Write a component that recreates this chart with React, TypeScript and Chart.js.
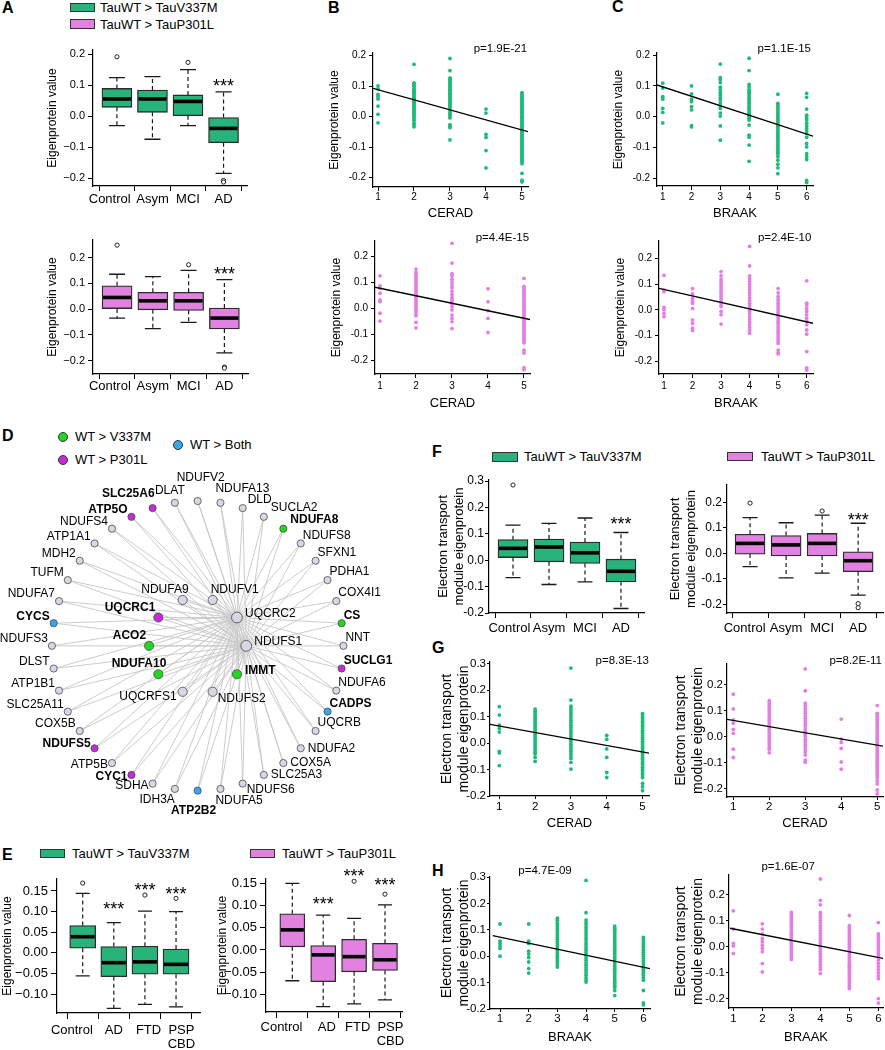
import React, { useEffect, useRef } from 'react';
import { Chart, registerables } from 'chart.js';

Chart.register(...registerables);

const FONT = "'Liberation Sans', Arial, Helvetica, sans-serif";

const GREEN_BOX = '#28b37b';
const PINK_BOX = '#e182e0';
const GREEN_DOT = '#1eba78';
const PINK_DOT = '#e47ee4';

/* ---------------- categories, ticks, labels ---------------- */
const stageCats = ['Control', 'Asym', 'MCI', 'AD'];
const diseaseCats = ['Control', 'AD', 'FTD', 'PSP\nCBD'];
const ceradStages = [1, 2, 3, 4, 5];
const braakStages = [1, 2, 3, 4, 5, 6];
const ticksPm02 = [-0.2, -0.1, 0, 0.1, 0.2];
const ticksM02to03 = [-0.2, -0.1, 0, 0.1, 0.2, 0.3];
const ticksE = [-0.1, -0.05, 0, 0.05, 0.1, 0.15];
const legendV337M = 'TauWT > TauV337M';
const legendP301L = 'TauWT > TauP301L';

/* ---------------- box plots: [min, q1, median, q3, max] ---------------- */
const boxA_V337M = [[-0.031, 0.028, 0.055, 0.089, 0.124], [-0.075, 0.012, 0.055, 0.084, 0.127], [-0.031, 0.001, 0.047, 0.068, 0.15], [-0.185, -0.086, -0.04, -0.005, 0.078]];
const outA_V337M = [[0.191], [], [0.173], [-0.208, -0.213]];
const starsA_V337M = [null, null, null, 0.112];

const boxA_P301L = [[-0.035, 0.0, 0.045, 0.09, 0.135], [-0.076, -0.003, 0.032, 0.065, 0.126], [-0.052, -0.005, 0.032, 0.065, 0.15], [-0.17, -0.077, -0.035, 0.004, 0.114]];
const outA_P301L = [[0.248], [], [0.172], [-0.225, -0.229]];
const starsA_P301L = [null, null, null, 0.152];

const boxE_V337M = [[-0.056, 0.011, 0.039, 0.066, 0.144], [-0.135, -0.058, -0.024, 0.015, 0.073], [-0.125, -0.052, -0.022, 0.016, 0.101], [-0.131, -0.052, -0.028, 0.009, 0.1]];
const outE_V337M = [[0.169], [], [0.14], [0.132]];
const starsE_V337M = [null, 0.116, 0.162, 0.154];

const boxE_P301L = [[-0.069, 0.007, 0.045, 0.081, 0.149], [-0.127, -0.071, -0.011, 0.01, 0.078], [-0.121, -0.049, -0.015, 0.024, 0.071], [-0.112, -0.046, -0.022, 0.015, 0.101]];
const outE_P301L = [[], [], [0.154], [0.125]];
const starsE_P301L = [null, 0.112, 0.175, 0.154];

const boxF_V337M = [[-0.066, 0.01, 0.045, 0.078, 0.133], [-0.092, -0.006, 0.05, 0.08, 0.14], [-0.082, -0.012, 0.028, 0.069, 0.16], [-0.183, -0.082, -0.042, 0.004, 0.105]];
const outF_V337M = [[0.285], [], [], []];
const starsF_V337M = [null, null, null, 0.152];

const boxF_P301L = [[-0.052, -0.003, 0.039, 0.075, 0.14], [-0.096, -0.01, 0.033, 0.07, 0.12], [-0.078, -0.01, 0.039, 0.078, 0.15], [-0.164, -0.072, -0.029, 0.006, 0.118]];
const outF_P301L = [[0.197], [], [0.166], [-0.197, -0.213]];
const starsF_P301L = [null, null, null, 0.148];

/* ---------------- scatter columns (one array per stage) ---------------- */
const bCerad_V337M = [
  [0.101, 0.091, 0.073, 0.066, 0.058, 0.035, 0.008, -0.02],
  [0.172, 0.111, 0.108, 0.102, 0.098, 0.091, 0.088, 0.082, 0.079, 0.075, 0.07, 0.066, 0.061, 0.059, 0.053, 0.05, 0.046, 0.043, 0.037, 0.035, 0.03, 0.026, 0.022, 0.017, 0.014, 0.008, 0.004, -0.001, -0.007, -0.013, -0.022, -0.026, -0.033],
  [0.191, 0.151, 0.127, 0.123, 0.118, 0.113, 0.109, 0.104, 0.1, 0.095, 0.09, 0.087, 0.082, 0.077, 0.073, 0.069, 0.064, 0.06, 0.055, 0.051, 0.046, 0.041, 0.036, 0.031, 0.025, 0.02, 0.013, 0.008, 0.002, -0.004, -0.026, -0.031, -0.036, -0.076],
  [0.025, 0.012, -0.058, -0.068, -0.111, -0.168],
  [0.079, 0.075, 0.071, 0.066, 0.062, 0.058, 0.053, 0.049, 0.045, 0.04, 0.036, 0.032, 0.028, 0.023, 0.019, 0.015, 0.01, 0.006, 0.001, -0.003, -0.007, -0.012, -0.016, -0.021, -0.025, -0.029, -0.034, -0.038, -0.043, -0.047, -0.052, -0.056, -0.061, -0.065, -0.07, -0.074, -0.079, -0.083, -0.088, -0.092, -0.097, -0.101, -0.106, -0.11, -0.115, -0.119, -0.124, -0.129, -0.133, -0.138, -0.143, -0.148, -0.154, -0.186, -0.208, -0.214],
];
const bCerad_P301L = [
  [0.125, 0.086, 0.077, 0.058, 0.032, 0.026, -0.019, -0.049],
  [0.151, 0.138, 0.131, 0.123, 0.116, 0.108, 0.101, 0.094, 0.086, 0.079, 0.072, 0.065, 0.057, 0.05, 0.044, 0.037, 0.03, 0.022, 0.015, 0.008, 0.001, -0.006, -0.013, -0.021, -0.029, -0.054, -0.075],
  [0.25, 0.174, 0.133, 0.124, 0.112, 0.101, 0.09, 0.079, 0.066, 0.053, 0.043, 0.034, 0.026, 0.017, 0.006, -0.006, -0.026, -0.039, -0.052, -0.078],
  [0.075, 0.025, -0.009, -0.039, -0.093],
  [0.115, 0.084, 0.078, 0.071, 0.065, 0.058, 0.051, 0.045, 0.038, 0.031, 0.025, 0.018, 0.012, 0.005, -0.001, -0.008, -0.014, -0.021, -0.027, -0.034, -0.04, -0.047, -0.053, -0.06, -0.066, -0.073, -0.079, -0.086, -0.092, -0.099, -0.105, -0.112, -0.118, -0.125, -0.133, -0.161, -0.172, -0.228, -0.236],
];
const cBraak_V337M = [
  [0.109, 0.093, 0.065, 0.057, 0.027, 0.014, -0.02],
  [0.1, 0.074, 0.057, 0.049, 0.033, 0.022, -0.029, -0.033],
  [0.171, 0.127, 0.121, 0.111, 0.096, 0.088, 0.079, 0.07, 0.062, 0.055, 0.045, 0.036, 0.027, 0.012, 0.002, -0.03, -0.076],
  [0.19, 0.15, 0.105, 0.097, 0.088, 0.082, 0.076, 0.069, 0.062, 0.056, 0.049, 0.043, 0.036, 0.03, 0.024, 0.017, 0.011, 0.006, 0.0, -0.005, -0.011, -0.027, -0.06, -0.067, -0.092, -0.145],
  [0.073, 0.043, 0.038, 0.032, 0.025, 0.019, 0.012, 0.006, 0.0, -0.006, -0.012, -0.019, -0.025, -0.031, -0.037, -0.043, -0.049, -0.055, -0.061, -0.067, -0.073, -0.079, -0.085, -0.091, -0.097, -0.103, -0.109, -0.115, -0.121, -0.13, -0.141, -0.154, -0.166, -0.185],
  [0.076, 0.063, 0.025, 0.005, -0.003, -0.011, -0.021, -0.03, -0.038, -0.046, -0.055, -0.067, -0.087, -0.098, -0.12, -0.13, -0.139, -0.207, -0.214],
];
const cBraak_P301L = [
  [0.134, 0.078, 0.071, 0.01, 0.0, -0.013, -0.026],
  [0.083, 0.062, 0.045, 0.035, 0.026, 0.006, -0.039, -0.052, -0.071, -0.08],
  [0.149, 0.133, 0.12, 0.11, 0.1, 0.091, 0.081, 0.072, 0.062, 0.052, 0.043, 0.033, 0.023, 0.013, -0.006, -0.019, -0.055],
  [0.247, 0.171, 0.132, 0.122, 0.111, 0.1, 0.089, 0.079, 0.068, 0.058, 0.047, 0.037, 0.026, 0.016, 0.005, -0.006, -0.016, -0.027, -0.037, -0.048, -0.058, -0.068, -0.079, -0.091],
  [0.083, 0.066, 0.052, 0.043, 0.035, 0.026, 0.017, 0.009, 0.0, -0.009, -0.018, -0.026, -0.035, -0.044, -0.052, -0.061, -0.07, -0.079, -0.087, -0.096, -0.105, -0.113, -0.122, -0.13, -0.156, -0.166, -0.171],
  [0.113, 0.026, 0.019, 0.006, -0.006, -0.019, -0.032, -0.045, -0.058, -0.078, -0.094, -0.162, -0.225, -0.234],
];
const gCerad_V337M = [
  [0.138, 0.106, 0.068, 0.055, 0.042, -0.031, -0.037, -0.085],
  [0.129, 0.121, 0.112, 0.104, 0.097, 0.089, 0.081, 0.073, 0.066, 0.058, 0.051, 0.043, 0.035, 0.028, 0.02, 0.012, 0.005, -0.003, -0.011, -0.018, -0.026, -0.034, -0.041, -0.054, -0.069],
  [0.284, 0.163, 0.14, 0.131, 0.122, 0.113, 0.104, 0.095, 0.086, 0.077, 0.068, 0.059, 0.05, 0.041, 0.032, 0.023, 0.014, 0.005, -0.004, -0.013, -0.022, -0.031, -0.04, -0.049, -0.058, -0.073, -0.098],
  [0.029, 0.014, -0.022, -0.054, -0.111, -0.13],
  [0.112, 0.106, 0.099, 0.092, 0.084, 0.078, 0.07, 0.063, 0.057, 0.049, 0.042, 0.036, 0.028, 0.021, 0.015, 0.007, 0.001, -0.007, -0.014, -0.02, -0.028, -0.035, -0.041, -0.049, -0.056, -0.062, -0.07, -0.077, -0.083, -0.091, -0.098, -0.104, -0.112, -0.119, -0.13, -0.152, -0.165, -0.18],
];
const gCerad_P301L = [
  [0.164, 0.107, 0.065, 0.052, 0.028, 0.013, -0.048, -0.08],
  [0.139, 0.131, 0.122, 0.114, 0.105, 0.097, 0.088, 0.08, 0.071, 0.063, 0.054, 0.046, 0.037, 0.029, 0.02, 0.012, 0.003, -0.006, -0.014, -0.023, -0.031, -0.04, -0.048, -0.062],
  [0.261, 0.177, 0.129, 0.12, 0.11, 0.1, 0.091, 0.08, 0.07, 0.061, 0.05, 0.041, 0.03, 0.021, 0.01, 0.001, -0.01, -0.019, -0.03, -0.039, -0.05, -0.059, -0.07, -0.09, -0.098],
  [0.068, -0.009, -0.022, -0.045, -0.097, -0.125],
  [0.12, 0.09, 0.082, 0.074, 0.066, 0.058, 0.05, 0.042, 0.034, 0.026, 0.018, 0.01, 0.002, -0.006, -0.014, -0.022, -0.03, -0.038, -0.046, -0.054, -0.062, -0.07, -0.078, -0.086, -0.094, -0.102, -0.11, -0.118, -0.126, -0.134, -0.142, -0.15, -0.158, -0.17, -0.182, -0.205, -0.22],
];
const hBraak_V337M = [
  [0.122, 0.057, 0.048, 0.039, 0.029, 0.0],
  [0.122, 0.057, 0.048, 0.019, 0.008, -0.005, -0.022, -0.047, -0.064],
  [0.144, 0.136, 0.128, 0.12, 0.112, 0.104, 0.096, 0.088, 0.08, 0.072, 0.064, 0.056, 0.048, 0.04, 0.032, 0.024, 0.016, 0.008, 0.0, -0.008, -0.016, -0.024, -0.033, -0.041],
  [0.287, 0.165, 0.137, 0.127, 0.118, 0.108, 0.099, 0.089, 0.08, 0.07, 0.061, 0.051, 0.042, 0.032, 0.023, 0.013, 0.004, -0.006, -0.015, -0.025, -0.034, -0.044, -0.053, -0.063, -0.072, -0.082, -0.09, -0.098],
  [0.114, 0.106, 0.098, 0.09, 0.082, 0.074, 0.066, 0.058, 0.05, 0.042, 0.034, 0.026, 0.018, 0.01, 0.002, -0.006, -0.014, -0.022, -0.03, -0.038, -0.046, -0.054, -0.062, -0.07, -0.078, -0.086, -0.094, -0.102, -0.11, -0.118, -0.13, -0.149],
  [0.071, 0.063, 0.055, 0.047, 0.039, 0.031, 0.023, 0.015, 0.007, -0.001, -0.009, -0.017, -0.025, -0.033, -0.041, -0.049, -0.057, -0.065, -0.073, -0.081, -0.091, -0.13, -0.177, -0.184],
];
const hBraak_P301L = [
  [0.138, 0.068, 0.013, 0.003, -0.026],
  [0.088, 0.068, 0.049, 0.032, 0.019, 0.006, -0.006, -0.019, -0.065, -0.097],
  [0.132, 0.124, 0.116, 0.108, 0.1, 0.092, 0.084, 0.076, 0.068, 0.06, 0.052, 0.044, 0.036, 0.028, 0.02, 0.012, 0.004, -0.004, -0.012, -0.02, -0.03, -0.04, -0.049],
  [0.261, 0.178, 0.161, 0.132, 0.122, 0.112, 0.102, 0.092, 0.082, 0.072, 0.062, 0.052, 0.042, 0.032, 0.022, 0.012, 0.002, -0.008, -0.018, -0.028, -0.038, -0.048, -0.058, -0.068, -0.078, -0.088, -0.103],
  [0.12, 0.081, 0.073, 0.065, 0.057, 0.049, 0.041, 0.033, 0.025, 0.017, 0.009, 0.001, -0.007, -0.015, -0.023, -0.031, -0.039, -0.047, -0.055, -0.063, -0.071, -0.079, -0.087, -0.095, -0.103, -0.111, -0.119, -0.127, -0.135, -0.143, -0.152, -0.161],
  [0.093, 0.049, 0.04, 0.03, 0.02, 0.01, 0.0, -0.01, -0.02, -0.03, -0.04, -0.052, -0.064, -0.076, -0.088, -0.1, -0.112, -0.123, -0.2, -0.217],
];

/* regression line end points */
const fitB_V337M = [{ x: 0.861, y: 0.093 }, { x: 5.167, y: -0.049 }];
const fitB_P301L = [{ x: 0.861, y: 0.081 }, { x: 5.167, y: -0.043 }];
const fitC_V337M = [{ x: 0.8, y: 0.103 }, { x: 6.22, y: -0.063 }];
const fitC_P301L = [{ x: 0.825, y: 0.084 }, { x: 6.22, y: -0.052 }];
const fitG_V337M = [{ x: 0.74, y: 0.071 }, { x: 5.18, y: -0.038 }];
const fitG_P301L = [{ x: 0.825, y: 0.067 }, { x: 5.16, y: -0.036 }];
const fitH_V337M = [{ x: 0.745, y: 0.078 }, { x: 6.23, y: -0.047 }];
const fitH_P301L = [{ x: 0.886, y: 0.071 }, { x: 6.16, y: -0.045 }];

const pB_V337M = 'p=1.9E-21';
const pB_P301L = 'p=4.4E-15';
const pC_V337M = 'p=1.1E-15';
const pC_P301L = 'p=2.4E-10';
const pG_V337M = 'p=8.3E-13';
const pG_P301L = 'p=8.2E-11';
const pH_V337M = 'p=4.7E-09';
const pH_P301L = 'p=1.6E-07';

/* ---------------- network (panel D) ---------------- */
const netOuterNames = ['NDUFV2', 'NDUFA13', 'DLD', 'SUCLA2', 'NDUFA8', 'NDUFS8', 'SFXN1', 'PDHA1', 'COX4I1', 'CS', 'NNT', 'SUCLG1', 'NDUFA6', 'CADPS', 'UQCRB', 'NDUFA2', 'COX5A', 'SLC25A3', 'NDUFS6', 'NDUFA5', 'ATP2B2', 'IDH3A', 'SDHA', 'CYC1', 'ATP5B', 'NDUFS5', 'COX5B', 'SLC25A11', 'ATP1B1', 'DLST', 'NDUFS3', 'CYCS', 'NDUFA7', 'TUFM', 'MDH2', 'ATP1A1', 'NDUFS4', 'ATP5O', 'SLC25A6', 'DLAT'];
const netOuterGroups = 'g g g g v g g g g v g p g b g g g g g g b g g p g p g g g g g b g g g g g p p g'.split(' ');
const netInnerNames = ['NDUFV1', 'UQCRC2', 'NDUFS1', 'IMMT', 'NDUFS2', 'UQCRFS1', 'NDUFA10', 'ACO2', 'UQCRC1', 'NDUFA9'];
const netInnerGroups = 'g g g v g g v v p g'.split(' ');
const netHubNames = ['UQCRC2', 'NDUFS1'];
const netGroupOrder = ['g', 'v', 'p', 'b'];
const netGroupFill: any = { g: '#d6d8e6', v: '#22d622', p: '#c52bd7', b: '#38a6ec' };

/* ---------------- helpers ---------------- */
type Geo = { cl: number; pl: number; pt: number; pr: number; pb: number; cb: number };
const PAD_T = 14;
const PAD_R = 10;
function frameOf(g: Geo) {
  return { left: g.cl, top: g.pt - PAD_T, width: g.pr + PAD_R - g.cl, height: g.cb - g.pt + PAD_T, yW: g.pl - g.cl, xH: g.cb - g.pb };
}
const fmtMinus1 = (v: number) => (v < -1e-9 ? '\u2212' : '') + Math.abs(v).toFixed(1);
const fmtMinus2 = (v: number) => (v < -1e-9 ? '\u2212' : '') + Math.abs(v).toFixed(2);
const fmtHyph1 = (v: number) => (v < -1e-9 ? '-' : '') + Math.abs(v).toFixed(1);
/* nudge a centred category label sideways with non-breaking spaces (negative = left) */
const NB = '\u00a0';
const nudge = (s: string, n: number) => (n < 0 ? s + NB.repeat(-n) : NB.repeat(n) + s);

function makeScales(o: any) {
  const f = frameOf(o.g);
  const grid = (len: number) => ({ display: true, drawOnChartArea: false, drawTicks: true, tickLength: len, tickWidth: 1, tickColor: '#000', color: '#000', lineWidth: 1 });
  const border = { display: true, color: '#000', width: 1.2 };
  return {
    x: {
      type: 'linear', min: o.xr[0], max: o.xr[1], bounds: 'data', offset: false,
      afterFit: (s: any) => { s.height = f.xH; },
      afterBuildTicks: (s: any) => { s.ticks = o.xTicks.map((v: number) => ({ value: v })); },
      grid: grid(o.xTickLen), border,
      ticks: { autoSkip: false, maxRotation: 0, minRotation: 0, padding: o.xPad, color: '#000', font: { family: FONT, size: o.xTickFont, lineHeight: 1.1 }, callback: (v: any) => o.xLabel(Number(v)) },
      title: o.xTitle ? { display: true, text: o.xTitle, color: '#000', font: { family: FONT, size: o.xTitleFont, lineHeight: 1.2 }, padding: { top: 0, bottom: 0 } } : { display: false },
    },
    y: {
      type: 'linear', min: o.yr[0], max: o.yr[1], bounds: 'data',
      afterFit: (s: any) => { s.width = f.yW; },
      afterBuildTicks: (s: any) => { s.ticks = o.yTicks.map((v: number) => ({ value: v })); },
      grid: grid(o.yTickLen), border,
      ticks: { autoSkip: false, padding: o.yPad, color: '#000', font: { family: FONT, size: o.yTickFont }, callback: (v: any) => o.yFmt(Number(v)) },
      title: { display: true, text: o.yTitle, color: '#000', font: { family: FONT, size: o.yTitleFont, lineHeight: 1.2 }, padding: { top: 0, bottom: 0 } },
    },
  };
}

function baseOptions(o: any) {
  return {
    responsive: false,
    animation: false,
    events: [],
    layout: { padding: { top: PAD_T, right: PAD_R, bottom: 0, left: 0 } },
    plugins: { legend: { display: false }, tooltip: { enabled: false }, title: { display: false } },
    scales: makeScales(o),
  };
}

function boxOverlay(stats: number[][], stars: (number | null)[], capW: number, medW: number) {
  return {
    id: 'boxOverlay',
    afterDatasetsDraw(chart: any) {
      const ctx = chart.ctx;
      const xs = chart.scales.x;
      const ys = chart.scales.y;
      ctx.save();
      stats.forEach((s, i) => {
        const cx = xs.getPixelForValue(i + 1);
        const [mn, q1, md, q3, mx] = s.map((v) => ys.getPixelForValue(v));
        ctx.strokeStyle = '#1a1a1a';
        ctx.lineWidth = 1.2;
        ctx.setLineDash([4, 3]);
        ctx.beginPath();
        ctx.moveTo(cx, q3); ctx.lineTo(cx, mx);
        ctx.moveTo(cx, q1); ctx.lineTo(cx, mn);
        ctx.stroke();
        ctx.setLineDash([]);
        ctx.lineWidth = 1.3;
        ctx.beginPath();
        ctx.moveTo(cx - capW / 2, mx); ctx.lineTo(cx + capW / 2, mx);
        ctx.moveTo(cx - capW / 2, mn); ctx.lineTo(cx + capW / 2, mn);
        ctx.stroke();
        ctx.strokeStyle = '#000';
        ctx.lineWidth = 3.6;
        ctx.beginPath();
        ctx.moveTo(cx - medW / 2 + 1, md); ctx.lineTo(cx + medW / 2 - 1, md);
        ctx.stroke();
      });
      const size = 18;
      ctx.fillStyle = '#000';
      ctx.font = `${size}px ${FONT}`;
      ctx.textAlign = 'center';
      ctx.textBaseline = 'alphabetic';
      stars.forEach((v, i) => {
        if (v == null) return;
        ctx.fillText('***', xs.getPixelForValue(i + 1), ys.getPixelForValue(v) + size * 0.57);
      });
      ctx.restore();
    },
  };
}

function noteOverlay(note: any) {
  return {
    id: 'pNote',
    afterDatasetsDraw(chart: any) {
      const ctx = chart.ctx;
      ctx.save();
      ctx.font = `11.5px ${FONT}`;
      ctx.fillStyle = '#000';
      ctx.textAlign = note.align;
      ctx.textBaseline = 'middle';
      ctx.fillText(note.text, chart.scales.x.getPixelForValue(note.x), chart.scales.y.getPixelForValue(note.y));
      ctx.restore();
    },
  };
}

function boxConfig(p: any) {
  return {
    type: 'scatter',
    data: {
      datasets: [
        {
          type: 'scatter', order: 0,
          data: p.outliers.flatMap((arr: number[], i: number) => arr.map((v) => ({ x: i + 1, y: v }))),
          pointRadius: 2.1, pointBackgroundColor: '#fff', pointBorderColor: '#222', pointBorderWidth: 1,
        },
        {
          type: 'bar', order: 1,
          data: p.stats.map((s: number[], i: number) => ({ x: i + 1, y: [s[1], s[3]] })),
          backgroundColor: p.fill, borderColor: '#2b2b2b', borderWidth: 1.3, borderSkipped: false,
          barThickness: p.boxW, grouped: false,
        },
      ],
    },
    options: baseOptions(p.o),
    plugins: [boxOverlay(p.stats, p.stars, p.capW, p.boxW)],
  };
}

function scatterConfig(p: any) {
  return {
    type: 'scatter',
    data: {
      datasets: [
        { order: 0, data: p.fit, showLine: true, borderColor: '#000', borderWidth: 1.4, pointRadius: 0, fill: false },
        {
          order: 1,
          data: p.values.flatMap((arr: number[], i: number) => arr.map((v) => ({ x: p.stages[i], y: v }))),
          pointRadius: 1.9, pointBackgroundColor: p.color, pointBorderColor: p.color, pointBorderWidth: 0,
        },
      ],
    },
    options: baseOptions(p.o),
    plugins: [noteOverlay(p.note)],
  };
}

/* ---------------- network config ---------------- */
const NET_LEFT = 0, NET_TOP = 462, NET_W = 440, NET_H = 360;
const NET_CX = 197, NET_CY = 646, NET_R = 150;
const INNER_RATIO = 1 / 3;

function outerPlace(a: number): [string, number, number] {
  if (a < 4.5) return ['center', 3, -23];
  if (a < 13.5) return ['center', 22, -14];
  if (a < 22.5) return ['left', 5, -8];
  if (a < 40.5) return ['left', 7, -9];
  if (a < 130.5) return ['left', 2, -8];
  if (a < 157.5) return ['left', 7, 0];
  if (a < 166.5) return ['left', 4, 6];
  if (a < 175.5) return ['left', -5, 12];
  if (a < 184.5) return ['center', -4, 20];
  if (a < 193.5) return ['right', 0, 11];
  if (a < 220.5) return ['right', -4, 2];
  if (a < 229.5) return ['right', -4, -5];
  if (a < 337.5) return ['right', -4, -7];
  if (a < 346.5) return ['right', 2, -14];
  return ['center', -5, -12];
}
function innerPlace(a: number): [string, number, number] {
  if (a < 36) return ['left', -2, -10];
  if (a < 144) return ['left', 8, -4];
  if (a < 180) return ['left', 5, 7];
  if (a < 216) return ['right', -6, 5];
  if (a < 252) return ['right', 8, -11];
  if (a < 324) return ['right', -3, -10];
  return ['right', 6, -10];
}

function networkNodes() {
  const n = netOuterNames.length;
  const m = netInnerNames.length;
  const rad = Math.PI / 180;
  const outer = netOuterNames.map((name, i) => {
    const a = (i * 360) / n;
    return { name, group: netOuterGroups[i], ring: 'outer', a, x: Math.sin(a * rad), y: Math.cos(a * rad), r: 3.6 };
  });
  const inner = netInnerNames.map((name, k) => {
    const a = 180 / m + (k * 360) / m;
    const hub = netHubNames.includes(name);
    return { name, group: netInnerGroups[k], ring: 'inner', a, x: INNER_RATIO * Math.sin(a * rad), y: INNER_RATIO * Math.cos(a * rad), r: hub ? 5.4 : 4.6 };
  });
  return [...outer, ...inner];
}

function networkConfig() {
  const nodes = networkNodes();
  const byName: any = {};
  nodes.forEach((nd) => { byName[nd.name] = nd; });
  const edges: [string, string][] = [];
  nodes.forEach((nd) => {
    if (netHubNames.includes(nd.name)) return;
    netHubNames.forEach((h) => edges.push([nd.name, h]));
  });
  edges.push([netHubNames[0], netHubNames[1]]);
  const plugin = {
    id: 'net',
    beforeDatasetsDraw(chart: any) {
      const ctx = chart.ctx;
      const xs = chart.scales.x, ys = chart.scales.y;
      ctx.save();
      ctx.strokeStyle = '#c6c6c6';
      ctx.lineWidth = 0.9;
      ctx.beginPath();
      edges.forEach(([a, b]) => {
        const na = byName[a], nb = byName[b];
        ctx.moveTo(xs.getPixelForValue(na.x), ys.getPixelForValue(na.y));
        ctx.lineTo(xs.getPixelForValue(nb.x), ys.getPixelForValue(nb.y));
      });
      ctx.stroke();
      ctx.restore();
    },
    afterDatasetsDraw(chart: any) {
      const ctx = chart.ctx;
      const xs = chart.scales.x, ys = chart.scales.y;
      ctx.save();
      ctx.fillStyle = '#000';
      ctx.textBaseline = 'middle';
      nodes.forEach((nd) => {
        const [align, dx, dy] = nd.ring === 'outer' ? outerPlace(nd.a) : innerPlace(nd.a);
        ctx.font = `${nd.group === 'g' ? '' : 'bold '}12px ${FONT}`;
        ctx.textAlign = align;
        ctx.fillText(nd.name, xs.getPixelForValue(nd.x) + dx, ys.getPixelForValue(nd.y) + dy);
      });
      ctx.restore();
    },
  };
  return {
    type: 'scatter',
    data: {
      datasets: netGroupOrder.map((g) => ({
        data: nodes.filter((nd) => nd.group === g).map((nd) => ({ x: nd.x, y: nd.y, r: nd.r })),
        pointRadius: (c: any) => (c.raw ? c.raw.r : 3.5),
        pointBackgroundColor: netGroupFill[g],
        pointBorderColor: '#4a4a4a',
        pointBorderWidth: 0.8,
      })),
    },
    options: {
      responsive: false, animation: false, events: [],
      layout: { padding: 0 },
      plugins: { legend: { display: false }, tooltip: { enabled: false } },
      scales: {
        x: { type: 'linear', display: false, bounds: 'data', min: (NET_LEFT - NET_CX) / NET_R, max: (NET_LEFT + NET_W - NET_CX) / NET_R },
        y: { type: 'linear', display: false, bounds: 'data', min: -(NET_TOP + NET_H - NET_CY) / NET_R, max: (NET_CY - NET_TOP) / NET_R },
      },
    },
    plugins: [plugin],
  };
}

/* ---------------- components ---------------- */
function ChartCanvas({ left, top, width, height, make }: any) {
  const ref = useRef<HTMLCanvasElement>(null);
  useEffect(() => {
    const chart = new Chart(ref.current as any, make());
    return () => chart.destroy();
  }, []);
  return <canvas ref={ref} width={width} height={height} style={{ position: 'absolute', left, top, width, height }} />;
}

function GeoChart({ g, make }: any) {
  const f = frameOf(g);
  return <ChartCanvas left={f.left} top={f.top} width={f.width} height={f.height} make={make} />;
}

function Txt({ x, y, text, size = 13, bold = false }: any) {
  return (
    <div style={{ position: 'absolute', left: x, top: y - size * 0.6, fontSize: size, lineHeight: `${size * 1.2}px`, fontFamily: FONT, fontWeight: bold ? 'bold' : 'normal', whiteSpace: 'nowrap', color: '#000' }}>
      {text}
    </div>
  );
}
function Swatch({ x, y, w, h, color }: any) {
  return <div style={{ position: 'absolute', left: x, top: y, width: w, height: h, background: color, border: '1px solid #333', boxSizing: 'border-box' }} />;
}
function Dot({ cx, cy, r, color }: any) {
  return <div style={{ position: 'absolute', left: cx - r, top: cy - r, width: 2 * r, height: 2 * r, borderRadius: '50%', background: color, border: '1px solid #333', boxSizing: 'border-box' }} />;
}

/* geometry of each plot: canvas left, plot left/top/right/bottom, canvas bottom */
const geoA1: Geo = { cl: 45, pl: 93, pt: 50, pr: 247, pb: 186, cb: 212 };
const geoA2: Geo = { cl: 45, pl: 93, pt: 240, pr: 248, pb: 374, cb: 400 };
const geoB1: Geo = { cl: 327, pl: 373, pt: 53, pr: 528, pb: 187, cb: 221 };
const geoB2: Geo = { cl: 329, pl: 375, pt: 241, pr: 530, pb: 374, cb: 411 };
const geoC1: Geo = { cl: 611, pl: 657, pt: 53, pr: 813, pb: 186, cb: 221 };
const geoC2: Geo = { cl: 613, pl: 659, pt: 241, pr: 813, pb: 374, cb: 411 };
const geoE1: Geo = { cl: 0, pl: 57, pt: 879, pr: 200, pb: 1013, cb: 1050 };
const geoE2: Geo = { cl: 215, pl: 266, pt: 879, pr: 402, pb: 1012, cb: 1050 };
const geoF1: Geo = { cl: 436, pl: 489, pt: 480, pr: 644, pb: 613, cb: 640 };
const geoF2: Geo = { cl: 668, pl: 727, pt: 485, pr: 883, pb: 613, cb: 640 };
const geoG1: Geo = { cl: 439, pl: 490, pt: 662, pr: 649, pb: 796, cb: 831 };
const geoG2: Geo = { cl: 673, pl: 727, pt: 664, pr: 883, pb: 797, cb: 831 };
const geoH1: Geo = { cl: 439, pl: 490, pt: 877, pr: 650, pb: 1009, cb: 1045 };
const geoH2: Geo = { cl: 673, pl: 729, pt: 875, pr: 883, pb: 1008, cb: 1045 };

const catIdx = stageCats.map((_, i) => i + 1);
const disIdx = diseaseCats.map((_, i) => i + 1);
const ETM = ['Electron transport', 'module eigenprotein'];

const boxAxisA = (g: Geo, yr: number[], xPad: number) => ({
  g, xr: [0.327, 4.66], yr, xTicks: catIdx, xLabel: (v: number) => nudge(stageCats[v - 1], [-4, 0, 0, 0][v - 1]),
  yTicks: ticksPm02, yFmt: fmtMinus1, yTickFont: 11, xTickFont: 13, yTickLen: 5, xTickLen: 5, yPad: 3, xPad,
  yTitle: 'Eigenprotein value', yTitleFont: 12,
});
const boxAxisE = (g: Geo, xr: number[], yr: number[], xPad: number, shifts: number[]) => ({
  g, xr, yr, xTicks: disIdx, xLabel: (v: number) => diseaseCats[v - 1].split('\n').map((s) => nudge(s, shifts[v - 1])),
  yTicks: ticksE, yFmt: fmtMinus2, yTickFont: 13, xTickFont: 13, yTickLen: 6, xTickLen: 6, yPad: 3, xPad,
  yTitle: 'Eigenprotein value', yTitleFont: 12,
});
const boxAxisF = (g: Geo, xr: number[], yr: number[], yTicks: number[], shifts: number[]) => ({
  g, xr, yr, xTicks: catIdx, xLabel: (v: number) => nudge(stageCats[v - 1], shifts[v - 1]),
  yTicks, yFmt: fmtHyph1, yTickFont: 12, xTickFont: 13, yTickLen: 4, xTickLen: 5, yPad: 1, xPad: 3,
  yTitle: ETM, yTitleFont: 13,
});
const scatAxisBC = (g: Geo, xr: number[], yr: number[], stages: number[], xTitle: string, xPad: number) => ({
  g, xr, yr, xTicks: stages, xLabel: (v: number) => String(v),
  yTicks: ticksPm02, yFmt: fmtHyph1, yTickFont: 10, xTickFont: 10, yTickLen: 4, xTickLen: 4, yPad: 3, xPad,
  yTitle: 'Eigenprotein value', yTitleFont: 12, xTitle, xTitleFont: 13,
});
const scatAxisGH = (g: Geo, xr: number[], yr: number[], yTicks: number[], stages: number[], xTitle: string, xPad: number) => ({
  g, xr, yr, xTicks: stages, xLabel: (v: number) => String(v),
  yTicks, yFmt: fmtHyph1, yTickFont: 11.5, xTickFont: 11.5, yTickLen: 3, xTickLen: 3, yPad: 1, xPad,
  yTitle: ETM, yTitleFont: 14, xTitle, xTitleFont: 13,
});

export default function App() {
  return (
    <div style={{ position: 'absolute', left: 0, top: 0, width: 885, height: 1050, overflow: 'hidden', background: '#fff', fontFamily: FONT }}>
      {/* panel letters */}
      <Txt x={2} y={8} text="A" size={16} bold />
      <Txt x={328} y={8} text="B" size={16} bold />
      <Txt x={612} y={7} text="C" size={16} bold />
      <Txt x={2} y={436} text="D" size={16} bold />
      <Txt x={2} y={855} text="E" size={16} bold />
      <Txt x={432} y={452} text="F" size={16} bold />
      <Txt x={432} y={648} text="G" size={16} bold />
      <Txt x={432} y={871} text="H" size={16} bold />

      {/* legend A */}
      <Swatch x={70} y={3} w={25} h={9} color={GREEN_BOX} />
      <Txt x={100} y={7.5} text={legendV337M} />
      <Swatch x={70} y={19} w={25} h={10} color={PINK_BOX} />
      <Txt x={100} y={24.5} text={legendP301L} />

      {/* legend D */}
      <Dot cx={63} cy={437} r={5} color={netGroupFill.v} />
      <Txt x={75} y={437} text="WT > V337M" />
      <Dot cx={63} cy={460} r={5} color={netGroupFill.p} />
      <Txt x={75} y={460} text="WT > P301L" />
      <Dot cx={178} cy={445} r={5} color={netGroupFill.b} />
      <Txt x={190} y={445} text="WT > Both" />

      {/* legend E */}
      <Swatch x={40} y={849} w={25} h={9} color={GREEN_BOX} />
      <Txt x={72} y={854} text={legendV337M} />
      <Swatch x={250} y={849} w={25} h={9} color={PINK_BOX} />
      <Txt x={282} y={854} text={legendP301L} />

      {/* legend F */}
      <Swatch x={492} y={452} w={26} h={10} color={GREEN_BOX} />
      <Txt x={524} y={457} text={legendV337M} />
      <Swatch x={727} y={452} w={26} h={9} color={PINK_BOX} />
      <Txt x={761} y={457} text={legendP301L} />

      {/* A */}
      <GeoChart g={geoA1} make={() => boxConfig({ o: boxAxisA(geoA1, [-0.2258, 0.213], 1), stats: boxA_V337M, outliers: outA_V337M, stars: starsA_V337M, fill: GREEN_BOX, boxW: 30, capW: 16 })} />
      <GeoChart g={geoA2} make={() => boxConfig({ o: boxAxisA(geoA2, [-0.252, 0.268], 0), stats: boxA_P301L, outliers: outA_P301L, stars: starsA_P301L, fill: PINK_BOX, boxW: 30, capW: 16 })} />

      {/* B */}
      <GeoChart g={geoB1} make={() => scatterConfig({ o: scatAxisBC(geoB1, [0.861, 5.167], [-0.2305, 0.209], ceradStages, 'CERAD', 1), stages: ceradStages, values: bCerad_V337M, fit: fitB_V337M, color: GREEN_DOT, note: { text: pB_V337M, x: 5.14, y: 0.222, align: 'right' } })} />
      <GeoChart g={geoB2} make={() => scatterConfig({ o: scatAxisBC(geoB2, [0.861, 5.167], [-0.2527, 0.259], ceradStages, 'CERAD', 3), stages: ceradStages, values: bCerad_P301L, fit: fitB_P301L, color: PINK_DOT, note: { text: pB_P301L, x: 5.14, y: 0.27, align: 'right' } })} />

      {/* C */}
      <GeoChart g={geoC1} make={() => scatterConfig({ o: scatAxisBC(geoC1, [0.8, 6.22], [-0.225, 0.207], braakStages, 'BRAAK', 2), stages: braakStages, values: cBraak_V337M, fit: fitC_V337M, color: GREEN_DOT, note: { text: pC_V337M, x: 6.15, y: 0.22, align: 'right' } })} />
      <GeoChart g={geoC2} make={() => scatterConfig({ o: scatAxisBC(geoC2, [0.825, 6.22], [-0.249, 0.268], braakStages, 'BRAAK', 3), stages: braakStages, values: cBraak_P301L, fit: fitC_P301L, color: PINK_DOT, note: { text: pC_P301L, x: 6.16, y: 0.28, align: 'right' } })} />

      {/* D */}
      <ChartCanvas left={NET_LEFT} top={NET_TOP} width={NET_W} height={NET_H} make={networkConfig} />

      {/* E */}
      <GeoChart g={geoE1} make={() => boxConfig({ o: boxAxisE(geoE1, [0.174, 4.77], [-0.146, 0.179], 4, [-6, 0, 2, 3]), stats: boxE_V337M, outliers: outE_V337M, stars: starsE_V337M, fill: GREEN_BOX, boxW: 26, capW: 14 })} />
      <GeoChart g={geoE2} make={() => boxConfig({ o: boxAxisE(geoE2, [0.149, 4.55], [-0.139, 0.159], 2, [-6, 2, 2, 3]), stats: boxE_P301L, outliers: outE_P301L, stars: starsE_P301L, fill: PINK_BOX, boxW: 25, capW: 14 })} />

      {/* F */}
      <GeoChart g={geoF1} make={() => boxConfig({ o: boxAxisF(geoF1, [0.333, 4.64], [-0.2, 0.304], ticksM02to03, [-2, 0, 0, 0]), stats: boxF_V337M, outliers: outF_V337M, stars: starsF_V337M, fill: GREEN_BOX, boxW: 30, capW: 15 })} />
      <GeoChart g={geoF2} make={() => boxConfig({ o: boxAxisF(geoF2, [0.36, 4.69], [-0.234, 0.268], ticksPm02, [-3, 0, 0, 0]), stats: boxF_P301L, outliers: outF_P301L, stars: starsF_P301L, fill: PINK_BOX, boxW: 30, capW: 15 })} />

      {/* G */}
      <GeoChart g={geoG1} make={() => scatterConfig({ o: scatAxisGH(geoG1, [0.74, 5.18], [-0.2, 0.307], ticksM02to03, ceradStages, 'CERAD', 2), stages: ceradStages, values: gCerad_V337M, fit: fitG_V337M, color: GREEN_DOT, note: { text: pG_V337M, x: 5.18, y: 0.31, align: 'right' } })} />
      <GeoChart g={geoG2} make={() => scatterConfig({ o: scatAxisGH(geoG2, [0.825, 5.16], [-0.232, 0.28], ticksPm02, ceradStages, 'CERAD', 1), stages: ceradStages, values: gCerad_P301L, fit: fitG_P301L, color: PINK_DOT, note: { text: pG_P301L, x: 5.13, y: 0.291, align: 'right' } })} />

      {/* H */}
      <GeoChart g={geoH1} make={() => scatterConfig({ o: scatAxisGH(geoH1, [0.65, 6.23], [-0.2, 0.3], ticksM02to03, braakStages, 'BRAAK', 1), stages: braakStages, values: hBraak_V337M, fit: fitH_V337M, color: GREEN_DOT, note: { text: pH_V337M, x: 2.57, y: 0.323, align: 'center' } })} />
      <GeoChart g={geoH2} make={() => scatterConfig({ o: scatAxisGH(geoH2, [0.85, 6.16], [-0.236, 0.276], ticksPm02, braakStages, 'BRAAK', 2), stages: braakStages, values: hBraak_P301L, fit: fitH_P301L, color: PINK_DOT, note: { text: pH_P301L, x: 2.89, y: 0.307, align: 'center' } })} />
    </div>
  );
}
